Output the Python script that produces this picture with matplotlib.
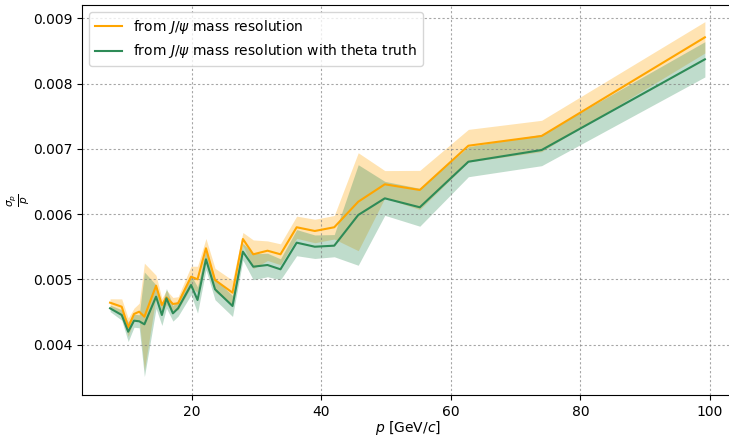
import numpy as np
import matplotlib
matplotlib.use('Agg')
import matplotlib.pyplot as plt

# momentum bin centres [GeV/c]
p = [7.4, 9.2, 10.2, 11.1, 11.9, 12.7, 14.5, 15.4, 16.1, 17.1, 17.9, 19.9, 20.9,
     22.2, 23.6, 26.3, 27.9, 29.5, 31.7, 33.7, 36.2, 39.0, 42.0, 45.7, 49.8,
     55.2, 62.7, 74.0, 99.2]

# resolution from J/psi mass resolution
res_mass = [0.004645, 0.004583, 0.004268, 0.004472, 0.004507, 0.004430, 0.004905,
            0.004610, 0.004727, 0.004625, 0.004636, 0.005043, 0.005003, 0.005478,
            0.004992, 0.004798, 0.005620, 0.005386, 0.005441, 0.005386, 0.005800,
            0.005743, 0.005800, 0.006191, 0.006458, 0.006371, 0.007049, 0.007198,
            0.008709]
err_mass = [0.00006, 0.00012, 0.00014, 0.00009, 0.00013, 0.00082, 0.00016, 0.00010,
            0.00011, 0.00010, 0.00010, 0.00016, 0.00020, 0.00015, 0.00018, 0.00019,
            0.00010, 0.00022, 0.00015, 0.00016, 0.00017, 0.00018, 0.00018, 0.00075,
            0.00021, 0.00030, 0.00025, 0.00024, 0.00024]

# same, with theta truth
res_theta = [0.004559, 0.004456, 0.004200, 0.004369, 0.004360, 0.004314, 0.004737,
             0.004456, 0.004712, 0.004482, 0.004559, 0.004916, 0.004686, 0.005309,
             0.004850, 0.004594, 0.005426, 0.005196, 0.005222, 0.005156, 0.005564,
             0.005502, 0.005518, 0.005988, 0.006243, 0.006106, 0.006804, 0.006983,
             0.008372]
err_theta = [0.00005, 0.00008, 0.00015, 0.00010, 0.00010, 0.00080, 0.00018, 0.00016,
             0.00015, 0.00012, 0.00012, 0.00015, 0.00020, 0.00016, 0.00016, 0.00016,
             0.00013, 0.00020, 0.00018, 0.00016, 0.00020, 0.00018, 0.00017, 0.00077,
             0.00026, 0.00029, 0.00023, 0.00024, 0.00027]

p = np.array(p)
res_mass, err_mass = np.array(res_mass), np.array(err_mass)
res_theta, err_theta = np.array(res_theta), np.array(err_theta)

W, H = 729, 437
fig = plt.figure(figsize=(W / 100, H / 100), dpi=100)
# right edge of the axes falls outside the picture (cropped in the original)
ax_w = 733.4 - 82
ax = fig.add_axes([82 / W, 1 - 395 / H, ax_w / W, (395 - 5) / H])

ax.plot(p, res_mass, color='orange', label=r'from $J/\psi$ mass resolution')
ax.fill_between(p, res_mass - err_mass, res_mass + err_mass, color='orange',
                alpha=0.3, linewidth=0)
ax.plot(p, res_theta, color='seagreen', label=r'from $J/\psi$ mass resolution with theta truth')
ax.fill_between(p, res_theta - err_theta, res_theta + err_theta, color='seagreen',
                alpha=0.3, linewidth=0)

ax.set_xlim(3.07, 103.6)
ax.set_ylim(0.003231, 0.009204)
ax.set_xticks([20, 40, 60, 80, 100])
ax.set_yticks([0.004, 0.005, 0.006, 0.007, 0.008, 0.009])
ax.grid(True, color='gray', linestyle=(0, (2, 2)), linewidth=0.8, alpha=0.7)
ax.set_xlabel(r'$p$ [GeV/$c$]', labelpad=0)
ax.set_ylabel(r'$\frac{\sigma_p}{p}$', fontsize=11)
ax.yaxis.set_label_coords(-(82 - 32) / ax_w, 0.5)
ax.legend(loc='upper left', fontsize=10)

fig.savefig('out.png', dpi=100)
